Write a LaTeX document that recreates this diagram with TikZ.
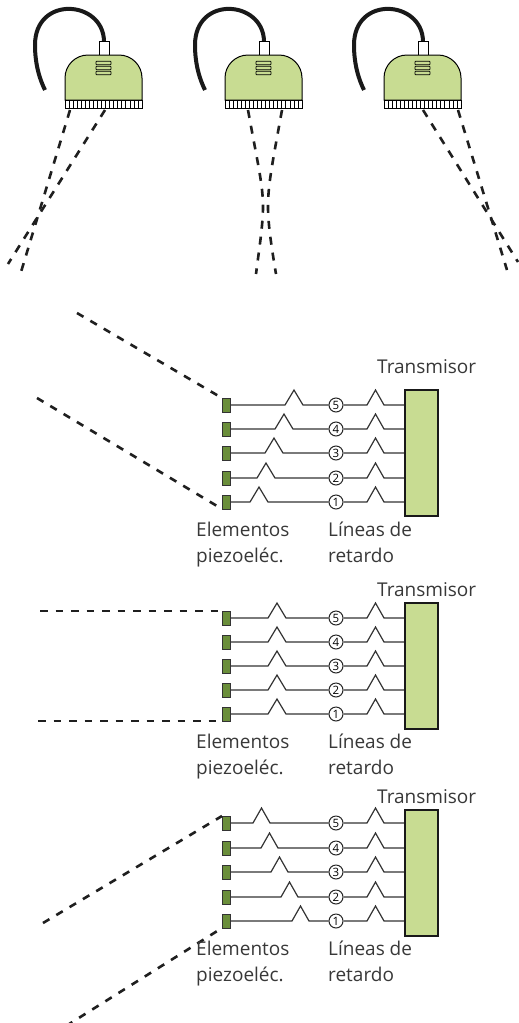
\documentclass[tikz,border=0pt]{standalone}
\usepackage{fontspec}
\setmainfont{Open Sans}
\definecolor{bodyc}{HTML}{C8DC92}
\definecolor{piezoc}{HTML}{6A8E3A}
\definecolor{wirec}{HTML}{333333}
\definecolor{textc}{HTML}{383838}
\begin{document}
\begin{tikzpicture}[x=1pt,y=-1pt,
  wire/.style={draw=wirec, line width=1.2pt},
  beam/.style={line width=2.6pt, dash pattern=on 7.5pt off 8pt, draw=black!88},
  probebeam/.style={line width=2.6pt, dash pattern=on 8pt off 8pt, draw=black!88},
  cable/.style={line width=4pt, draw=black!90},
  piezo/.style={draw=black!80, fill=piezoc, line width=1pt, minimum width=8pt,
    minimum height=14pt, inner sep=0pt, outer sep=0pt},
  delaytag/.style={circle, draw=black!85, fill=white, line width=1pt,
    minimum size=14pt, inner sep=0pt, font=\fontsize{11.5}{11.5}\selectfont},
  txbox/.style={draw=black!90, fill=bodyc, line width=2.4pt, minimum width=33pt,
    minimum height=126pt, inner sep=0pt},
  label/.style={text=textc, font=\fontsize{19}{24}\selectfont, inner sep=0pt,
    anchor=base west}]
\useasboundingbox (0,0) rectangle (519,1023);
\clip (0,0) rectangle (519,1023);

% ---------- three transducer heads ----------
\foreach \s in {0,160,319} {
\begin{scope}[xshift=\s]
  \draw[cable] (104,41) .. controls (103,0) and (35,-5) .. (35,45)
               .. controls (35,65) and (40,80) .. (45,90);
  \draw[fill=white, line width=0.8pt] (99,41) rectangle (109,55);
  \draw[fill=bodyc, line width=1pt] (65,100) -- (65,78)
     arc[start angle=180, end angle=270, radius=23] -- (119,55)
     arc[start angle=270, end angle=360, radius=23] -- (142,100) -- cycle;
  \foreach \yy in {63,68,73}
    \draw[fill=bodyc, rounded corners=0.5pt, line width=0.7pt]
      (96,\yy-1.7) rectangle (111,\yy+1.7);
  \draw[fill=white, line width=1pt] (65,100) rectangle (142,108);
  \foreach \k in {1,...,18}
    \draw[line width=0.6pt] ({65+\k*77/19},100) -- ++(0,8);
\end{scope}
}

% beams below the heads
\draw[probebeam] (70,110) -- (21,272);
\draw[probebeam] (105,110) -- (8,264);
\draw[probebeam] (248,110) .. controls (258,165) and (263,185) .. (263,207)
   .. controls (263,225) and (259,250) .. (256,274);
\draw[probebeam] (282,110) .. controls (272,165) and (268,185) .. (268,207)
   .. controls (268,225) and (272,250) .. (276,274);
\draw[probebeam] (423,110) -- (518,262);
\draw[probebeam] (458,110) -- (507,270);

% ---------- panel 1: steered beam ----------
\node[txbox] (txa) at (421.5,453) {};
\foreach \i/\y/\b in {5/405/285, 4/429/275, 3/453/265, 2/478/257, 1/502/250} {
  \node[piezo] (pa\i) at (226,\y) {};
  \node[delaytag] (da\i) at (336,\y) {\i};
  \draw[wire] (pa\i.east) -- (\b,\y) -- ++(9,-15) -- ++(9,15) -- (da\i.west);
  \draw[wire] (da\i.east) -- (367,\y) -- ++(8.5,-15) -- ++(8.5,15) -- (txa.west |- da\i);
}
\coordinate (ua) at (77,313);
\coordinate (la) at (37,398);
\draw[beam] (ua) -- (pa5.north west);
\draw[beam] (la) -- (pa1.south west);
\node[label] (tra) at (377,373) {Transmisor};
\node[label] (ea1) at (196,536) {Elementos};
\node[label] (ea2) at (196,562) {piezoeléc.};
\node[label] (la1) at (328,536) {Líneas de};
\node[label] (la2) at (328,562) {retardo};

% ---------- panel 2: unsteered beam ----------
\node[txbox] (txb) at (421.5,666) {};
\foreach \i/\y in {5/618, 4/642, 3/666, 2/690, 1/714} {
  \node[piezo] (pb\i) at (226,\y) {};
  \node[delaytag] (db\i) at (336,\y) {\i};
  \draw[wire] (pb\i.east) -- (268,\y) -- ++(9,-15) -- ++(9,15) -- (db\i.west);
  \draw[wire] (db\i.east) -- (367,\y) -- ++(8.5,-15) -- ++(8.5,15) -- (txb.west |- db\i);
}
\coordinate (ub) at (40,611);
\coordinate (lb) at (38,721);
\draw[beam] (ub) -- (pb5.north west);
\draw[beam] (lb) -- (pb1.south west);
\node[label] (trb) at (377,596) {Transmisor};
\node[label] (eb1) at (196,748) {Elementos};
\node[label] (eb2) at (196,774) {piezoeléc.};
\node[label] (lb1) at (328,748) {Líneas de};
\node[label] (lb2) at (328,774) {retardo};

% ---------- panel 3: beam steered the other way ----------
\node[txbox] (txc) at (421.5,873) {};
\foreach \i/\y/\b in {5/823/253, 4/848/261, 3/872/271, 2/897/281, 1/921/292} {
  \node[piezo] (pc\i) at (226,\y) {};
  \node[delaytag] (dc\i) at (336,\y) {\i};
  \draw[wire] (pc\i.east) -- (\b,\y) -- ++(8.5,-15) -- ++(8.5,15) -- (dc\i.west);
  \draw[wire] (dc\i.east) -- (367,\y) -- ++(8.5,-15) -- ++(8.5,15) -- (txc.west |- dc\i);
}
\coordinate (uc) at (43,923);
\coordinate (lc) at (66,1026);
\draw[beam] (uc) -- (pc5.north west);
\draw[beam] (lc) -- (pc1.south west);
\node[label] (trc) at (377,803) {Transmisor};
\node[label] (ec1) at (196,955) {Elementos};
\node[label] (ec2) at (196,981) {piezoeléc.};
\node[label] (lc1) at (328,955) {Líneas de};
\node[label] (lc2) at (328,981) {retardo};
\end{tikzpicture}
\end{document}
